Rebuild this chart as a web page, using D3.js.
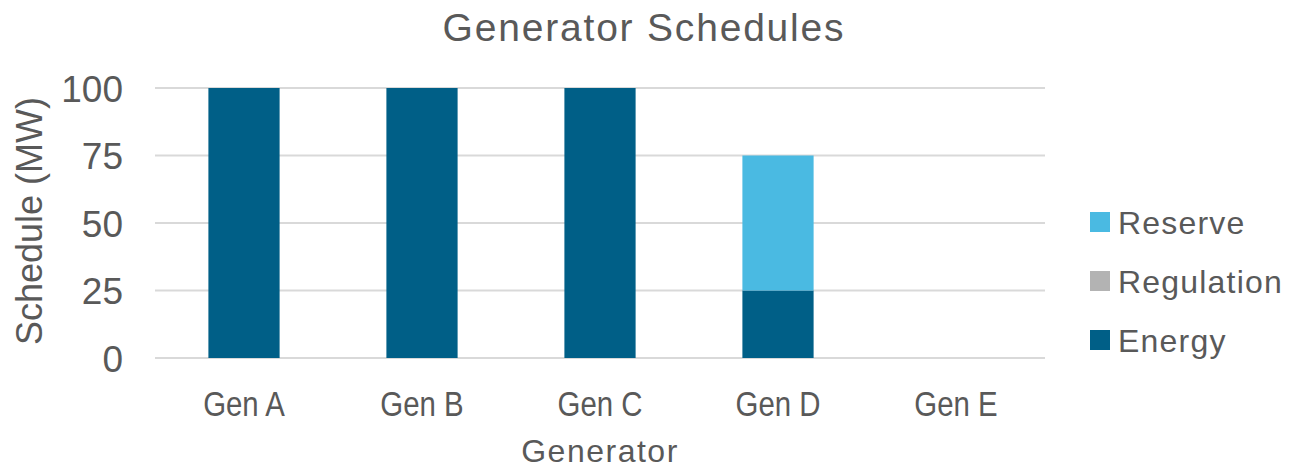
<!DOCTYPE html>
<html>
<head>
<meta charset="utf-8">
<script src="https://cdn.jsdelivr.net/npm/d3@7"></script>
<style>
  body { margin: 0; background: #fff; }
  text { font-family: "Liberation Sans", Arial, sans-serif; fill: #595959; }
</style>
</head>
<body>
<script>
const generators = ["Gen A", "Gen B", "Gen C", "Gen D", "Gen E"];
const energy     = [100, 100, 100, 25, 0];
const regulation = [0, 0, 0, 0, 0];
const reserve    = [0, 0, 0, 50, 0];
const seriesNames = ["Energy", "Regulation", "Reserve"];
const seriesColors = ["#005F87", "#B3B3B3", "#4ABAE2"];
const yTicks = [0, 25, 50, 75, 100];

let width = 1291, height = 468;
let margin = {left: 155, right: 246, top: 88, bottom: 110};

let svg = d3.select("body").append("svg")
            .attr("width", width)
            .attr("height", height);

let rows = generators.map((g, i) => ({gen: g, Energy: energy[i], Regulation: regulation[i], Reserve: reserve[i]}));
let stacked = d3.stack().keys(seriesNames)(rows);

let x = d3.scaleBand()
          .domain(generators)
          .range([margin.left, width - margin.right])
          .paddingInner(0.6)
          .paddingOuter(0.3);
let y = d3.scaleLinear()
          .domain([0, 100])
          .range([height - margin.bottom, margin.top]);
let color = d3.scaleOrdinal().domain(seriesNames).range(seriesColors);

// gridlines
svg.append("g")
   .selectAll("line")
   .data(yTicks)
   .enter()
   .append("line")
   .attr("x1", margin.left)
   .attr("x2", width - margin.right)
   .attr("y1", d => y(d))
   .attr("y2", d => y(d))
   .attr("stroke", "#D9D9D9")
   .attr("stroke-width", 2);

// bars
svg.append("g")
   .selectAll("g")
   .data(stacked)
   .enter()
   .append("g")
   .attr("fill", d => color(d.key))
   .selectAll("rect")
   .data(d => d)
   .enter()
   .append("rect")
   .attr("x", d => x(d.data.gen))
   .attr("width", x.bandwidth())
   .attr("y", d => y(d[1]))
   .attr("height", d => y(d[0]) - y(d[1]));

// y tick labels
svg.append("g")
   .selectAll("text")
   .data(yTicks)
   .enter()
   .append("text")
   .attr("x", 123)
   .attr("y", d => y(d))
   .attr("dy", "0.37em")
   .attr("text-anchor", "end")
   .attr("font-size", 37)
   .text(d => d);

// x tick labels (condensed look)
svg.append("g")
   .selectAll("text")
   .data(generators)
   .enter()
   .append("text")
   .attr("transform", d => "translate(" + (x(d) + x.bandwidth() / 2) + ",416) scale(0.84,1)")
   .attr("text-anchor", "middle")
   .attr("font-size", 35)
   .text(d => d);

// titles
svg.append("text")
   .attr("x", 644)
   .attr("y", 41)
   .attr("text-anchor", "middle")
   .attr("font-size", 39)
   .attr("letter-spacing", 1.8)
   .text("Generator Schedules");

svg.append("text")
   .attr("x", (margin.left + width - margin.right) / 2)
   .attr("y", 462)
   .attr("text-anchor", "middle")
   .attr("font-size", 32)
   .attr("letter-spacing", 1.5)
   .text("Generator");

svg.append("text")
   .attr("transform", "translate(42," + ((y(0) + y(100)) / 2 - 2) + ") rotate(-90)")
   .attr("text-anchor", "middle")
   .attr("font-size", 36)
   .text("Schedule (MW)");

// legend
let legendOrder = ["Reserve", "Regulation", "Energy"];
let legend = svg.append("g")
                .selectAll("g")
                .data(legendOrder)
                .enter()
                .append("g")
                .attr("transform", (d, i) => "translate(1090," + (222 + i * 59) + ")");
legend.append("rect")
      .attr("x", 0)
      .attr("y", -10)
      .attr("width", 20)
      .attr("height", 20)
      .attr("fill", d => color(d));
legend.append("text")
      .attr("x", 28)
      .attr("dy", "0.36em")
      .attr("font-size", 32)
      .attr("letter-spacing", 1.2)
      .text(d => d);
</script>
</body>
</html>
